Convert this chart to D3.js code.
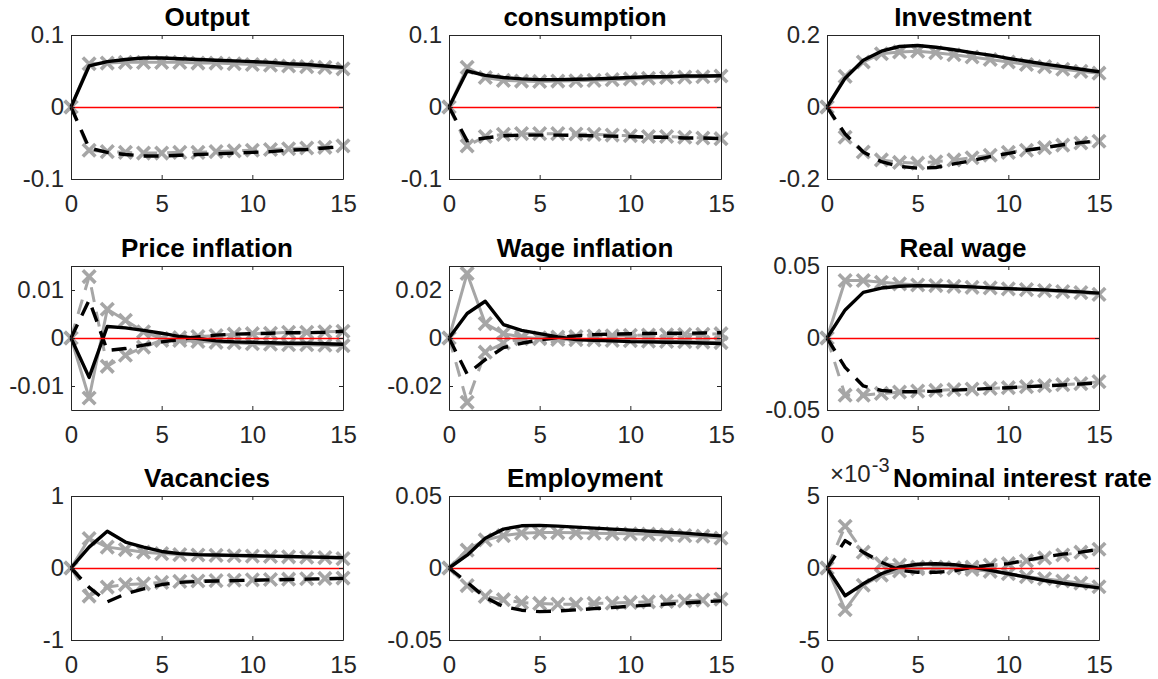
<!DOCTYPE html>
<html>
<head>
<meta charset="utf-8">
<script src="https://cdn.jsdelivr.net/npm/d3@7"></script>
<style>
  html, body { margin: 0; padding: 0; background: #ffffff; }
  svg { display: block; font-family: "Liberation Sans", Arial, Helvetica, sans-serif; }
</style>
</head>
<body>
<svg id="fig" width="1158" height="679"></svg>
<script>
// Horizon (quarters after the shock) and shared x ticks
const horizon = [0, 1, 2, 3, 4, 5, 6, 7, 8, 9, 10, 11, 12, 13, 14, 15];
const xTicks = [0, 5, 10, 15];

const panelTitles = [
  "Output", "consumption", "Investment",
  "Price inflation", "Wage inflation", "Real wage",
  "Vacancies", "Employment", "Nominal interest rate"
];

// Y limits and y ticks of each panel
const yLimits = [
  [-0.1, 0.1], [-0.1, 0.1], [-0.2, 0.2],
  [-0.015, 0.015], [-0.03, 0.03], [-0.05, 0.05],
  [-1, 1], [-0.05, 0.05], [-0.005, 0.005]
];
const yTickValues = [
  [-0.1, 0, 0.1], [-0.1, 0, 0.1], [-0.2, 0, 0.2],
  [-0.01, 0, 0.01], [-0.02, 0, 0.02], [-0.05, 0, 0.05],
  [-1, 0, 1], [-0.05, 0, 0.05], [-0.005, 0, 0.005]
];
const yTickLabels = [
  ["-0.1", "0", "0.1"], ["-0.1", "0", "0.1"], ["-0.2", "0", "0.2"],
  ["-0.01", "0", "0.01"], ["-0.02", "0", "0.02"], ["-0.05", "0", "0.05"],
  ["-1", "0", "1"], ["-0.05", "0", "0.05"], ["-5", "0", "5"]
];

// Output
const outputModel      = [0, 0.057, 0.063, 0.066, 0.068, 0.068, 0.067, 0.066, 0.065, 0.064, 0.063, 0.062, 0.060, 0.059, 0.057, 0.055];
const outputModelNeg   = [0, -0.057, -0.063, -0.066, -0.068, -0.068, -0.067, -0.066, -0.065, -0.064, -0.063, -0.062, -0.060, -0.059, -0.057, -0.055];
const outputApprox     = [0, 0.060, 0.061, 0.062, 0.062, 0.062, 0.062, 0.061, 0.061, 0.060, 0.059, 0.058, 0.057, 0.056, 0.055, 0.053];
const outputApproxNeg  = [0, -0.060, -0.062, -0.063, -0.064, -0.064, -0.063, -0.063, -0.062, -0.061, -0.060, -0.059, -0.058, -0.057, -0.056, -0.054];

// Consumption
const consModel        = [0, 0.050, 0.044, 0.041, 0.039, 0.038, 0.038, 0.0385, 0.039, 0.040, 0.041, 0.042, 0.042, 0.043, 0.043, 0.0435];
const consModelNeg     = [0, -0.047, -0.043, -0.040, -0.039, -0.039, -0.039, -0.0395, -0.040, -0.0405, -0.041, -0.042, -0.042, -0.043, -0.043, -0.044];
const consApprox       = [0, 0.055, 0.041, 0.037, 0.036, 0.0355, 0.036, 0.0365, 0.037, 0.038, 0.039, 0.040, 0.041, 0.0415, 0.042, 0.043];
const consApproxNeg    = [0, -0.054, -0.041, -0.038, -0.037, -0.037, -0.037, -0.0375, -0.038, -0.039, -0.040, -0.041, -0.041, -0.042, -0.043, -0.044];

// Investment
const invModel         = [0, 0.080, 0.130, 0.155, 0.168, 0.171, 0.166, 0.159, 0.151, 0.144, 0.135, 0.127, 0.119, 0.112, 0.105, 0.098];
const invModelNeg      = [0, -0.075, -0.125, -0.152, -0.165, -0.170, -0.168, -0.158, -0.149, -0.138, -0.129, -0.120, -0.113, -0.105, -0.099, -0.093];
const invApprox        = [0, 0.085, 0.125, 0.148, 0.153, 0.155, 0.151, 0.145, 0.139, 0.132, 0.125, 0.118, 0.112, 0.105, 0.099, 0.094];
const invApproxNeg     = [0, -0.084, -0.125, -0.147, -0.154, -0.156, -0.152, -0.147, -0.141, -0.134, -0.126, -0.120, -0.113, -0.106, -0.100, -0.095];

// Price inflation
const piModel          = [0, -0.0082, 0.0024, 0.0021, 0.0016, 0.0010, 0.0003, -0.0001, -0.0006, -0.0008, -0.0009, -0.0010, -0.0011, -0.0011, -0.0012, -0.0013];
const piModelNeg       = [0, 0.0079, -0.0026, -0.0022, -0.0015, -0.0008, -0.0003, 0.0002, 0.0006, 0.0008, 0.0009, 0.0010, 0.0011, 0.0011, 0.0012, 0.0014];
const piApprox         = [0, -0.0125, 0.0060, 0.0037, 0.0013, -0.0001, -0.0005, -0.0007, -0.0009, -0.0010, -0.0012, -0.0013, -0.0014, -0.0014, -0.0015, -0.0016];
const piApproxNeg      = [0, 0.0128, -0.0059, -0.0036, -0.0019, -0.0005, 0.0001, 0.0003, 0.0005, 0.0008, 0.0009, 0.0010, 0.0012, 0.0012, 0.0013, 0.0014];

// Wage inflation
const wpiModel         = [0, 0.0102, 0.0153, 0.0056, 0.0032, 0.0018, 0.0004, -0.0006, -0.0010, -0.0012, -0.0015, -0.0016, -0.0018, -0.0019, -0.0021, -0.0023];
const wpiModelNeg      = [0, -0.0150, -0.0090, -0.0040, -0.0022, -0.0008, 0.0002, 0.0009, 0.0014, 0.0016, 0.0018, 0.0019, 0.0020, 0.0020, 0.0021, 0.0022];
const wpiApprox        = [0, 0.0269, 0.0060, 0.0018, 0.0004, -0.0003, -0.0006, -0.0007, -0.0008, -0.0010, -0.0011, -0.0013, -0.0014, -0.0015, -0.0017, -0.0019];
const wpiApproxNeg     = [0, -0.0268, -0.0059, -0.0021, -0.0003, 0.0001, 0.0004, 0.0006, 0.0008, 0.0009, 0.0011, 0.0012, 0.0013, 0.0014, 0.0015, 0.0018];

// Real wage
const rwModel          = [0, 0.0195, 0.0317, 0.0347, 0.0359, 0.0364, 0.0362, 0.0359, 0.0355, 0.0348, 0.0343, 0.0338, 0.0334, 0.0327, 0.0320, 0.0312];
const rwModelNeg       = [0, -0.0204, -0.0333, -0.0364, -0.0373, -0.0373, -0.0369, -0.0362, -0.0357, -0.0350, -0.0345, -0.0338, -0.0333, -0.0326, -0.0319, -0.0312];
const rwApprox         = [0, 0.0399, 0.0399, 0.0387, 0.0376, 0.0368, 0.0364, 0.0359, 0.0352, 0.0348, 0.0341, 0.0336, 0.0329, 0.0322, 0.0315, 0.0303];
const rwApproxNeg      = [0, -0.0397, -0.0397, -0.0385, -0.0376, -0.0369, -0.0364, -0.0359, -0.0355, -0.0350, -0.0345, -0.0338, -0.0331, -0.0324, -0.0317, -0.0303];

// Vacancies
const vacModel         = [0, 0.29, 0.51, 0.36, 0.29, 0.23, 0.20, 0.186, 0.18, 0.175, 0.17, 0.165, 0.16, 0.155, 0.15, 0.144];
const vacModelNeg      = [0, -0.27, -0.47, -0.36, -0.29, -0.23, -0.20, -0.186, -0.18, -0.175, -0.17, -0.165, -0.16, -0.155, -0.15, -0.144];
const vacApprox        = [0, 0.41, 0.29, 0.256, 0.22, 0.20, 0.186, 0.18, 0.175, 0.17, 0.165, 0.16, 0.155, 0.15, 0.145, 0.13];
const vacApproxNeg     = [0, -0.39, -0.265, -0.23, -0.22, -0.20, -0.186, -0.18, -0.175, -0.17, -0.165, -0.16, -0.155, -0.15, -0.145, -0.14];

// Employment
const empModel         = [0, 0.0089, 0.0207, 0.0270, 0.0293, 0.0296, 0.0291, 0.0284, 0.0277, 0.0270, 0.0263, 0.0256, 0.0249, 0.0242, 0.0232, 0.0223];
const empModelNeg      = [0, -0.0099, -0.0204, -0.0268, -0.0293, -0.0303, -0.0298, -0.0291, -0.0282, -0.0275, -0.0265, -0.0258, -0.0251, -0.0244, -0.0235, -0.0228];
const empApprox        = [0, 0.0124, 0.0195, 0.0225, 0.0242, 0.0246, 0.0246, 0.0244, 0.0242, 0.0239, 0.0237, 0.0235, 0.0230, 0.0225, 0.0221, 0.0207];
const empApproxNeg     = [0, -0.0122, -0.0197, -0.0220, -0.0240, -0.0246, -0.0251, -0.0251, -0.0246, -0.0244, -0.0239, -0.0235, -0.0232, -0.0228, -0.0223, -0.0216];

// Nominal interest rate
const rModel           = [0, -0.00193, -0.0011, -0.0004, 0.00007, 0.00026, 0.0003, 0.00023, 0.00007, -0.00016, -0.0004, -0.00063, -0.00087, -0.00106, -0.00122, -0.00138];
const rModelNeg        = [0, 0.0019, 0.0011, 0.0004, -0.00016, -0.0003, -0.0003, -0.0002, 0.00005, 0.0002, 0.0003, 0.00054, 0.00077, 0.00096, 0.0011, 0.0013];
const rApprox          = [0, -0.0029, -0.0012, -0.0005, -0.0002, -0.00005, 0.00002, 0, -0.0001, -0.00023, -0.0004, -0.0006, -0.00075, -0.0009, -0.00105, -0.0013];
const rApproxNeg       = [0, 0.0029, 0.0011, 0.0003, 0.0002, 0.00007, 0.00007, 0.00002, 0.00007, 0.0002, 0.0003, 0.0005, 0.0007, 0.0009, 0.0011, 0.0013];

const modelSeries     = [outputModel, consModel, invModel, piModel, wpiModel, rwModel, vacModel, empModel, rModel];
const modelNegSeries  = [outputModelNeg, consModelNeg, invModelNeg, piModelNeg, wpiModelNeg, rwModelNeg, vacModelNeg, empModelNeg, rModelNeg];
const approxSeries    = [outputApprox, consApprox, invApprox, piApprox, wpiApprox, rwApprox, vacApprox, empApprox, rApprox];
const approxNegSeries = [outputApproxNeg, consApproxNeg, invApproxNeg, piApproxNeg, wpiApproxNeg, rwApproxNeg, vacApproxNeg, empApproxNeg, rApproxNeg];

// ---- layout ----
const colLeft = [71, 449, 827];
const rowTop = [35, 266, 496];
const plotW = 272, plotH = 144;
const axisColor = "#262626";
const grayColor = "#a6a6a6";
const tickFont = 24, titleFont = 26;
const dashPattern = "15,10";

const svg = d3.select("#fig");
svg.append("rect").attr("width", 1158).attr("height", 679).attr("fill", "#ffffff");

panelTitles.forEach((title, i) => {
  const r = Math.floor(i / 3), c = i % 3;
  const g = svg.append("g").attr("transform", `translate(${colLeft[c]},${rowTop[r]})`);

  const x = d3.scaleLinear().domain([0, 15]).range([0, plotW]);
  const y = d3.scaleLinear().domain(yLimits[i]).range([plotH, 0]);

  const line = d3.line().x((d, k) => x(horizon[k])).y(d => y(d));

  // approximation paths (gray, with x markers)
  [[approxSeries[i], null], [approxNegSeries[i], dashPattern]].forEach(([vals, dash]) => {
    g.append("path").datum(vals)
      .attr("d", line)
      .attr("fill", "none")
      .attr("stroke", grayColor)
      .attr("stroke-width", 3)
      .attr("stroke-linejoin", "round")
      .attr("stroke-dasharray", dash);
  });
  [approxSeries[i], approxNegSeries[i]].forEach(vals => {
    const s = 6.3;
    g.append("g").selectAll("path").data(vals).join("path")
      .attr("d", (d, k) => {
        const px = x(horizon[k]), py = y(d);
        return `M${px - s},${py - s}L${px + s},${py + s}M${px - s},${py + s}L${px + s},${py - s}`;
      })
      .attr("stroke", grayColor)
      .attr("stroke-width", 3.6)
      .attr("fill", "none");
  });

  // model paths (black)
  g.append("path").datum(modelSeries[i])
    .attr("d", line)
    .attr("fill", "none")
    .attr("stroke", "#000")
    .attr("stroke-width", 3.4)
    .attr("stroke-linejoin", "round");
  g.append("path").datum(modelNegSeries[i])
    .attr("d", line)
    .attr("fill", "none")
    .attr("stroke", "#000")
    .attr("stroke-width", 3.4)
    .attr("stroke-linejoin", "round")
    .attr("stroke-dasharray", dashPattern);

  // zero line
  const y0 = Math.round(y(0)) + 0.5;
  g.append("line")
    .attr("x1", x(0)).attr("x2", x(15))
    .attr("y1", y0).attr("y2", y0)
    .attr("stroke", "#ff0000").attr("stroke-width", 1.4);

  // axes: inward ticks on all four sides, labels bottom and left
  const labels = yTickLabels[i];
  const yVals = yTickValues[i];
  const bottom = d3.axisBottom(x).tickValues(xTicks).tickSizeInner(-4).tickSizeOuter(0).tickPadding(16).tickFormat(d3.format("d"));
  const top = d3.axisTop(x).tickValues(xTicks).tickSizeInner(-4).tickSizeOuter(0).tickFormat("");
  const left = d3.axisLeft(y).tickValues(yVals).tickSizeInner(-4).tickSizeOuter(0).tickPadding(7)
    .tickFormat((d, k) => labels[k]);
  const right = d3.axisRight(y).tickValues(yVals).tickSizeInner(-4).tickSizeOuter(0).tickFormat("");

  const styleAxis = sel => {
    sel.selectAll("path.domain").attr("stroke", axisColor).attr("stroke-width", 1);
    sel.selectAll(".tick line").attr("stroke", axisColor).attr("stroke-width", 1);
    sel.selectAll(".tick text").attr("fill", axisColor).style("font-size", tickFont + "px")
      .style("font-family", '"Liberation Sans", Arial, Helvetica, sans-serif');
  };
  g.append("g").attr("transform", `translate(0,${plotH})`).call(bottom).call(styleAxis);
  g.append("g").call(top).call(styleAxis);
  g.append("g").call(left).call(styleAxis);
  g.append("g").attr("transform", `translate(${plotW},0)`).call(right).call(styleAxis);

  // title
  if (i === 8) {
    // exponent marker sits at the top-left, title moved right of it
    const ex = g.append("text").attr("x", 3).attr("y", -14)
      .attr("fill", axisColor).style("font-size", tickFont + "px");
    ex.append("tspan").text("\u00d710");
    ex.append("tspan").attr("dx", 1).attr("dy", -10).style("font-size", "20px").text("-3");
    g.append("text").attr("x", 66).attr("y", -9)
      .attr("text-anchor", "start")
      .style("font-size", titleFont + "px").style("font-weight", "bold")
      .attr("fill", "#000").text(title);
  } else {
    g.append("text").attr("x", plotW / 2).attr("y", -9)
      .attr("text-anchor", "middle")
      .style("font-size", titleFont + "px").style("font-weight", "bold")
      .attr("fill", "#000").text(title);
  }
});
</script>
</body>
</html>
